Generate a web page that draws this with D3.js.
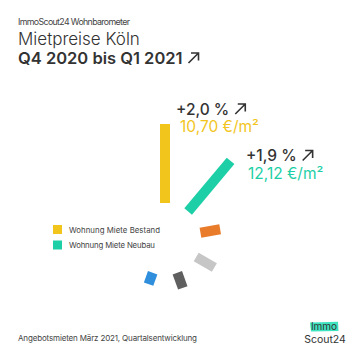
<!DOCTYPE html>
<html>
<head>
<meta charset="utf-8">
<script src="https://cdn.jsdelivr.net/npm/d3@7/dist/d3.min.js"></script>
<style>
  html, body { margin: 0; padding: 0; background: #fff; }
  svg { display: block; }
  text { font-family: Inter, "Noto Sans", sans-serif; }
</style>
</head>
<body>
<svg id="chart" width="360" height="360"></svg>
<script>
// ---- data ----
const categories = ["Wohnung Miete Bestand", "Wohnung Miete Neubau", "Wohnung Kauf Bestand", "Wohnung Kauf Neubau", "Haus Kauf Bestand", "Haus Kauf Neubau"];
const barValues = [7.9, 6.6, 2.0, 2.1, 1.6, 1.2];
const barColors = ["#F2C51D", "#1DCFA6", "#E97C2A", "#C6C6C6", "#5F5F5F", "#2F8FDD"];
const legendItems = ["Wohnung Miete Bestand", "Wohnung Miete Neubau"];
const changeLabels = ["+2,0 %", "+1,9 %"];
const priceLabels = ["10,70 €/m²", "12,12 €/m²"];

const svg = d3.select("#chart");
const cx = 165, cy = 239, r0 = 36, barW = 10;

const angle = d3.scalePoint().domain(categories).range([0, 200]);
const len = d3.scaleLinear().domain([0, 8]).range([0, 80]);

function fitText(sel, w) {
  const cur = sel.node().getComputedTextLength();
  const n = sel.text().length;
  if (n > 1) sel.attr("letter-spacing", ((w - cur) / (n - 1)).toFixed(3));
  return sel;
}

// titles
fitText(svg.append("text").attr("x", 18).attr("y", 25).attr("font-size", 8.8).attr("fill", "#444")
  .text("ImmoScout24 Wohnbarometer"), 112);
svg.append("text").attr("x", 18).attr("y", 44.5).attr("font-size", 17).attr("font-weight", 300).attr("fill", "#333")
  .text("Mietpreise Köln");
svg.append("text").attr("x", 18).attr("y", 63.5).attr("font-size", 16.5).attr("font-weight", 600).attr("fill", "#333")
  .text("Q4 2020 bis Q1 2021");

function arrow(x, y, s, w, color) {
  svg.append("path")
    .attr("d", `M${x},${y} L${x + s},${y - s} M${x + s * 0.25},${y - s} L${x + s},${y - s} L${x + s},${y - s * 0.25}`)
    .attr("fill", "none").attr("stroke", color).attr("stroke-width", w)
    .attr("stroke-linecap", "butt").attr("stroke-linejoin", "miter");
}
arrow(188.5, 63, 10, 1.6, "#333");

// bars
const g = svg.append("g").attr("transform", `translate(${cx},${cy})`);
g.selectAll("rect").data(categories).join("rect")
  .attr("transform", d => `rotate(${angle(d)})`)
  .attr("x", -barW / 2)
  .attr("y", (d, i) => -(r0 + len(barValues[i])))
  .attr("width", barW)
  .attr("height", (d, i) => len(barValues[i]))
  .attr("fill", (d, i) => barColors[i]);

// annotations
const ann = [
  { x: 176, y1: 114.5, y2: 131.5, px: 180 },
  { x: 246, y1: 161, y2: 178.5, px: 248 }
];
ann.forEach((a, i) => {
  const t = svg.append("text").attr("x", a.x).attr("y", a.y1).attr("font-size", 15.5).attr("font-weight", 500)
    .attr("fill", "#333").text(changeLabels[i]);
  const w = t.node().getComputedTextLength();
  arrow(a.x + w + 6, a.y1 - 0.5, 10, 1.6, "#333");
  svg.append("text").attr("x", a.px).attr("y", a.y2).attr("font-size", 15.5).attr("font-weight", 400)
    .attr("fill", barColors[i]).text(priceLabels[i]);
});

// legend
const legendW = [91, 86];
legendItems.forEach((d, i) => {
  svg.append("rect").attr("x", 53).attr("y", 225 + i * 15.5).attr("width", 9).attr("height", 9)
    .attr("fill", barColors[categories.indexOf(d)]);
  fitText(svg.append("text").attr("x", 69).attr("y", 232.5 + i * 15.5).attr("font-size", 7.8).attr("fill", "#444").text(d), legendW[i]);
});

// footer
fitText(svg.append("text").attr("x", 18).attr("y", 340.5).attr("font-size", 8).attr("fill", "#444")
  .text("Angebotsmieten März 2021, Quartalsentwicklung"), 179);

// logo
svg.append("path").attr("d", "M310,322.5 L338,321.8 L338.5,331 L311,331.5 Z").attr("fill", "#3EE3C0");
svg.append("text").attr("x", 324).attr("y", 330).attr("text-anchor", "middle").attr("font-size", 10).attr("fill", "#333").text("Immo");
svg.append("text").attr("x", 325).attr("y", 342.5).attr("text-anchor", "middle").attr("font-size", 10.5).attr("fill", "#333").text("Scout24");
</script>
</body>
</html>
